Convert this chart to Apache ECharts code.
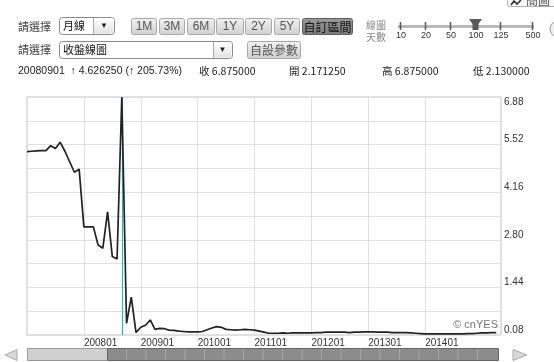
<!DOCTYPE html>
<html><head><meta charset="utf-8">
<script src="https://cdn.jsdelivr.net/npm/echarts@6/dist/echarts.min.js"></script>
<style>html,body{margin:0;padding:0;background:#fff;overflow:hidden}#c{width:554px;height:362px}</style>
</head><body><div id="c"></div>
<script>
// ---------- data ----------
const categories = [
 '200701','200702','200703','200704','200705','200706','200707','200708','200709','200710','200711','200712',
 '200801','200802','200803','200804','200805','200806','200807','200808','200809','200810','200811','200812',
 '200901','200902','200903','200904','200905','200906','200907','200908','200909','200910','200911','200912',
 '201001','201002','201003','201004','201005','201006','201007','201008','201009','201010','201011','201012',
 '201101','201102','201103','201104','201105','201106','201107','201108','201109','201110','201111','201112',
 '201201','201202','201203','201204','201205','201206','201207','201208','201209','201210','201211','201212',
 '201301','201302','201303','201304','201305','201306','201307','201308','201309','201310','201311','201312',
 '201401','201402','201403','201404','201405','201406','201407','201408','201409','201410','201411','201412',
 '201501','201502','201503','201504','201505'
];
const closeValues = [
 5.32,5.33,5.34,5.35,5.35,5.49,5.41,5.59,5.33,5.03,4.73,4.82,
 3.17,3.17,3.17,2.65,2.56,3.60,2.32,2.249,6.875,0.41,1.16,0.15,
 0.30,0.36,0.51,0.24,0.27,0.26,0.22,0.21,0.19,0.18,0.17,0.17,
 0.17,0.18,0.23,0.28,0.32,0.30,0.24,0.23,0.22,0.23,0.24,0.23,
 0.22,0.19,0.16,0.13,0.13,0.13,0.14,0.13,0.14,0.14,0.14,0.14,
 0.14,0.15,0.15,0.16,0.16,0.16,0.16,0.16,0.15,0.16,0.16,0.17,
 0.17,0.17,0.16,0.16,0.16,0.15,0.15,0.15,0.15,0.14,0.13,0.12,
 0.11,0.11,0.11,0.11,0.11,0.11,0.11,0.11,0.11,0.12,0.12,0.13,
 0.14,0.14,0.15,0.15
];
const yearLabels = ['200801','200901','201001','201101','201201','201301','201401'];
const yTickLabels = ['0.08','1.44','2.80','4.16','5.52','6.88'];
const yMin = 0.08, yMax = 6.88;
const cursorMonth = '200809';
const infoTexts = ['20080901  ↑ 4.626250 (↑ 205.73%)','收 6.875000','開 2.171250','高 6.875000','低 2.130000'];
const rangeButtons = ['1M','3M','6M','1Y','2Y','5Y','自訂區間'];
const dayOptions = ['10','20','50','100','125','500'];
const selectLabels = ['請選擇','請選擇'];
const periodSelect = '月線';
const chartSelect = '收盤線圖';
const paramButton = '自設參數';
const dayTitle = ['線圖','天數'];
const copyright = '© cnYES';

// ---------- layout ----------
const btnX = [[131,156],[159,184],[187,214],[216,243],[245,271],[274,299],[302,352]];
const infoX = [18,199,289,382,473];
const dayX = [400,425,450,475,500,532];

const SANS = 'Arial, "Liberation Sans", "Noto Sans CJK TC", sans-serif';
const CJK = '"Noto Sans CJK TC", Arial, sans-serif';
const G = [];
function rect(x,y,w,h,fill,stroke,r,lw){G.push({type:'rect',z:50,silent:true,shape:{x:x,y:y,width:w,height:h,r:r||0},style:{fill:fill,stroke:stroke||null,lineWidth:lw||1}});}
function txt(x,y,text,font,fill,align,va){G.push({type:'text',z:51,silent:true,x:x,y:y,style:{text:text,font:font,fill:fill,align:align||'left',verticalAlign:va||'middle'}});}
function poly(points,fill,stroke){G.push({type:'polygon',z:50,silent:true,shape:{points:points},style:{fill:fill,stroke:stroke||null,lineWidth:1}});}
function line(x1,y1,x2,y2,stroke,lw){G.push({type:'line',z:50,silent:true,shape:{x1:x1,y1:y1,x2:x2,y2:y2},style:{stroke:stroke,lineWidth:lw||1}});}
function grad(c1,c2){return new echarts.graphic.LinearGradient(0,0,0,1,[{offset:0,color:c1},{offset:1,color:c2}]);}

// row 1
txt(18,27,selectLabels[0],'11px '+CJK,'#444');
rect(59.5,17.5,55,17,'#fff','#8a8a8a',3);
rect(93.5,18.5,20,15,grad('#ffffff','#e2e2e2'),null,0);
line(93.5,18,93.5,34,'#aaa');
txt(63,26,periodSelect,'11px '+CJK,'#111');
txt(104,26,'▼','8px '+SANS,'#222','center');
rangeButtons.forEach(function(b,i){
  const sel = (i === rangeButtons.length-1);
  rect(btnX[i][0]+0.5,18.5,btnX[i][1]-btnX[i][0],16,sel?grad('#9a9a9a','#7a7a7a'):grad('#f2f2f2','#cfcfcf'),sel?'#5e5e5e':'#a8a8a8',2);
  txt((btnX[i][0]+btnX[i][1])/2+0.5,27,b,'12px '+(sel?CJK:SANS),sel?'#111':'#555','center');
});
txt(366,25,dayTitle[0],'10px '+CJK,'#888');
txt(366,37,dayTitle[1],'10px '+CJK,'#888');
rect(398,25,136,3,'#b8b8b8',null,0);
dayOptions.forEach(function(d,i){
  line(dayX[i]+0.5,22,dayX[i]+0.5,30,'#555',1.5);
  txt(dayX[i]+1,35.5,d,'9px "Liberation Sans Narrow", Arial, sans-serif','#333','center');
});
poly([[469,19],[482,19],[478.5,24],[478.5,30],[472.5,30],[472.5,24]],'#5a5a5a');
G.push({type:'circle',z:50,silent:true,shape:{cx:558,cy:29,r:8},style:{fill:'#f0f0f0',stroke:'#999',lineWidth:1}});
rect(507.5,-10.5,50,17,'#f8f8f8','#b0b0b0',2);
G.push({type:'polyline',z:51,silent:true,shape:{points:[[511,5],[514,1],[517,4],[521,0]]},style:{stroke:'#333',lineWidth:1.6,fill:null}});
txt(526,0,'簡圖','12px '+CJK,'#555','left','middle');

// row 2
txt(18,50,selectLabels[1],'11px '+CJK,'#444');
rect(59.5,41.5,173,17,'#fff','#8a8a8a',3);
rect(213.5,42.5,18,15,grad('#ffffff','#e2e2e2'),null,0);
line(213.5,42,213.5,58,'#aaa');
txt(63,50,chartSelect,'11px '+CJK,'#111');
txt(222.5,50,'▼','8px '+SANS,'#222','center');
rect(247.5,41.5,53,17,grad('#f2f2f2','#cfcfcf'),'#a8a8a8',2);
txt(274,50,paramButton,'12px '+CJK,'#555','center');

// row 3
infoTexts.forEach(function(t,i){ txt(infoX[i],71,t,'10.5px '+(i>=1?CJK:SANS),'#222'); });

// copyright
txt(498,325,copyright,'11px '+SANS,'#777','right');

// bottom scroller
poly([[5,355],[17,349.5],[17,360.5]],'#d8d8d8','#aaa');
poly([[527,355],[513,349.5],[513,360.5]],'#d8d8d8','#aaa');
rect(27.5,348.5,80,12,'#d0d0d0','#9a9a9a',0);
rect(107.5,348.5,391,12,'#8c8c8c','#666',0);
for (let k=0;k<19;k++){ const lx=126.5+k*19.5; if(lx<495) line(lx,349,lx,360,'#a6a6a6'); }

// ---------- chart ----------
const chart = echarts.init(document.getElementById('c'), null, {renderer:'canvas'});
const showYear = function(idx,val){ return yearLabels.indexOf(val) >= 0; };
chart.setOption({
  animation:false,
  backgroundColor:'#fff',
  grid:{left:27,right:53,top:97,bottom:27,show:true,borderColor:'#c2c2c2',borderWidth:1,backgroundColor:'#fff'},
  xAxis:{
    type:'category', data:categories, boundaryGap:false,
    axisLine:{show:false}, axisTick:{show:false},
    axisLabel:{interval:showYear, align:'left', color:'#333', fontSize:10, fontFamily:SANS, margin:3},
    splitLine:{show:true, interval:showYear, lineStyle:{color:'#e0e0e0',width:1}}
  },
  yAxis:[
    {type:'value', position:'right', min:0, max:10, interval:1,
     axisLine:{show:false}, axisTick:{show:false},
     splitLine:{show:true, lineStyle:{color:'#e0e0e0',width:1}},
     axisLabel:{margin:3, color:'#333', fontSize:10, fontFamily:SANS, verticalAlign:'bottom', verticalAlignMaxLabel:'top',
       formatter:function(v){ return (v % 2 === 0) ? yTickLabels[v/2] : ''; }}
    },
    {type:'value', show:false, min:yMin, max:yMax}
  ],
  graphic:G,
  series:[{
    type:'line', yAxisIndex:1, data:closeValues, symbol:'none', smooth:false,
    lineStyle:{color:'#222',width:1.7}, z:3,
    markLine:{silent:true, symbol:['none','none'], label:{show:false},
      lineStyle:{color:'#33b3c6',width:1.2,type:'solid'}, data:[{xAxis:cursorMonth}], z:2}
  }]
});
</script>
</body></html>
